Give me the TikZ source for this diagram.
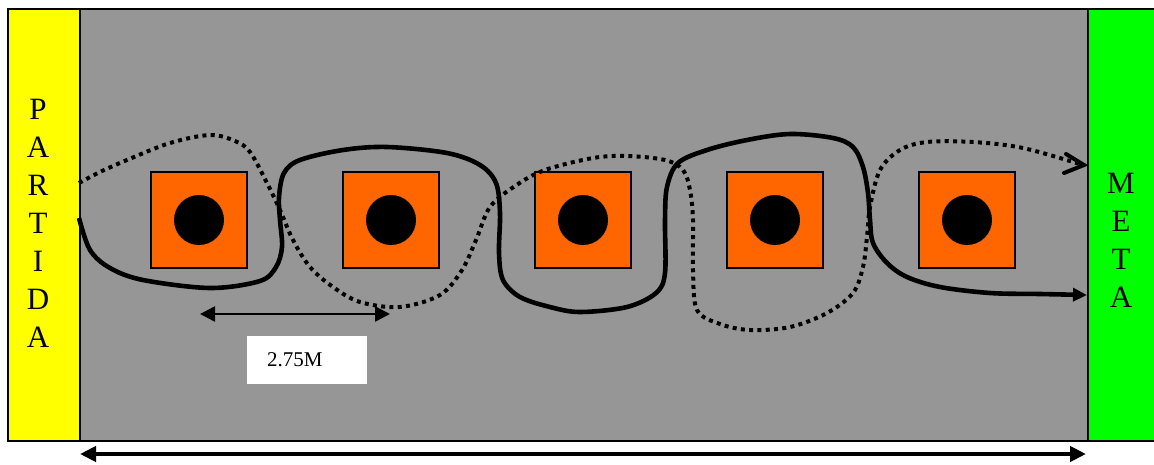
\documentclass[tikz,border=0pt]{standalone}
\usepackage{fontspec}
\setmainfont{Liberation Serif}
\usetikzlibrary{arrows.meta,calc}
\definecolor{field}{RGB}{150,150,150}
\definecolor{cone}{RGB}{255,102,0}
\definecolor{goal}{RGB}{0,255,0}
\definecolor{startc}{RGB}{255,255,0}
\tikzset{
  bar/.style={draw=black, line width=2pt, inner sep=0pt, anchor=north west},
  conebox/.style={draw=black, fill=cone, line width=1.5pt, minimum size=96pt, inner sep=0pt},
  ball/.style={circle, fill=black, minimum size=50pt, inner sep=0pt},
  barlabel/.style={font=\fontsize{31}{38}\selectfont, align=center, inner sep=0pt},
  dimarrow/.style={line width=2.5pt, {Triangle[length=15pt,width=15pt]}-{Triangle[length=15pt,width=15pt]}},
  bigarrow/.style={line width=4pt, {Triangle[length=16pt,width=15pt]}-{Triangle[length=16pt,width=15pt]}},
  solidpath/.style={line width=4.6pt, -{Triangle[length=14pt,width=13pt]}},
  dotpath/.style={line width=4pt, dash pattern=on 4pt off 4.3pt}
}
\begin{document}
\begin{tikzpicture}[x=1pt,y=-1pt]
\useasboundingbox (0,0) rectangle (1154,464);
% field and bars
\node[bar, fill=field, minimum width=1080pt, minimum height=432pt] (field) at (7,8) {};
\node[bar, fill=startc, minimum width=72pt, minimum height=432pt] (partida) at (7,8) {};
\node[bar, fill=goal, minimum width=80pt, minimum height=432pt] (meta) at (1087,8) {};
\node[barlabel] (ptxt) at (38,223.5) {P\\A\\R\\T\\I\\D\\A};
\node[barlabel] (mtxt) at (1121,240) {M\\E\\T\\A};
% cones
\foreach \i/\x in {1/199,2/391,3/583,4/775,5/967}{
  \node[conebox] (c\i) at (\x,220) {};
  \node[ball] (b\i) at (\x,220) {};
}
% solid path
\draw[solidpath] plot[smooth, tension=0.55] coordinates {
 (79,218) (90,250) (110,268) (143,280) (210,288) (260,281) (276,267) (282,247)
 (280,220) (279,197) (284,173) (300,160) (343,150) (387,147) (447,153) (480,165)
 (496,183) (500,213) (499,253) (503,280) (520,297) (550,307) (580,312) (627,307)
 (656,293) (665,273) (665,220) (667,187) (678,163) (707,150) (747,140) (790,134)
 (833,138) (853,147) (863,167) (868,193) (870,220) (873,243) (887,263) (907,277)
 (940,287) (990,293) (1040,294) (1087,295)};
% dotted path
\draw[dotpath] plot[smooth, tension=0.55] coordinates {
 (79,183) (100,172) (127,160) (170,143) (210,135) (235,141) (250,152) (267,183)
 (280,210) (293,240) (310,267) (333,287) (360,302) (400,307) (440,295) (462,270)
 (476,240) (490,207) (515,186) (545,170) (593,158) (627,156) (665,160) (683,170)
 (690,190) (693,220) (693,270) (697,310) (720,324) (750,330) (790,327) (827,313)
 (853,293) (863,267) (867,237) (870,207) (880,170) (900,150) (927,142) (973,142)
 (1023,148) (1083,165)};
\coordinate (dend) at (1084,165);
\draw[line width=4pt, line cap=round, line join=miter] ($(dend)+(-18,-11)$) -- (dend) -- ($(dend)+(-20,8)$);
% dimension arrows
\coordinate (d1) at (200,314);
\coordinate (d2) at (390,314);
\draw[dimarrow] (d1) -- (d2);
\node[fill=white, minimum width=120pt, minimum height=48pt, inner sep=0pt, anchor=north west] (lbox) at (247,336) {};
\node[font=\fontsize{21}{25}\selectfont, inner sep=0pt, anchor=base west] (ltxt) at (267,366) {2.75M};
\coordinate (w1) at (80,454);
\coordinate (w2) at (1086,454);
\draw[bigarrow] (w1) -- (w2);
\end{tikzpicture}
\end{document}
